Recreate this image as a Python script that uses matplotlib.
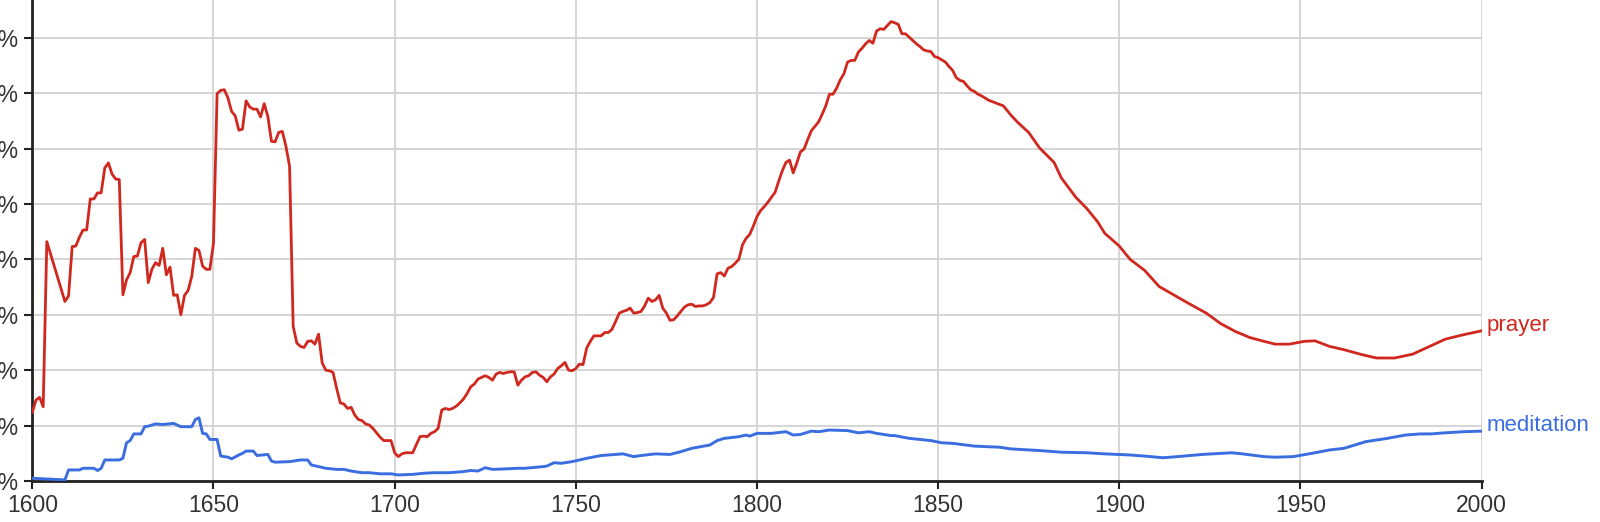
import matplotlib.pyplot as plt
from matplotlib.ticker import FixedLocator

plt.rcParams['font.family'] = ['Liberation Sans', 'DejaVu Sans']

# values in units of 0.001 % (one grid step)
prayer_years = [1600, 1601, 1602, 1603, 1604, 1609, 1610, 1611, 1612, 1613, 1614, 1615, 1616, 1617, 1618, 1619,
                1620, 1621, 1622, 1623, 1624, 1625, 1626, 1627, 1628, 1629, 1630, 1631, 1632, 1633, 1634, 1635,
                1636, 1637, 1638, 1639, 1640, 1641, 1642, 1643, 1644, 1645, 1646, 1647, 1648, 1649, 1650, 1651,
                1652, 1653, 1654, 1655, 1656, 1657, 1658, 1659, 1660, 1661, 1662, 1663, 1664, 1665, 1666, 1667,
                1668, 1669, 1670, 1671, 1672, 1673, 1674, 1675, 1676, 1677, 1678, 1679, 1680, 1681, 1682, 1683,
                1684, 1685, 1686, 1687, 1688, 1689, 1690, 1691, 1692, 1693, 1694, 1695, 1696, 1697, 1698, 1699,
                1700, 1701, 1702, 1703, 1704, 1705, 1706, 1707, 1708, 1709, 1710, 1711, 1712, 1713, 1714, 1715,
                1716, 1717, 1718, 1719, 1720, 1721, 1722, 1723, 1724, 1725, 1726, 1727, 1728, 1729, 1730, 1731,
                1732, 1733, 1734, 1735, 1736, 1737, 1738, 1739, 1740, 1741, 1742, 1743, 1744, 1745, 1746, 1747,
                1748, 1749, 1750, 1751, 1752, 1753, 1754, 1755, 1756, 1757, 1758, 1759, 1760, 1761, 1762, 1763,
                1764, 1765, 1766, 1767, 1768, 1769, 1770, 1771, 1772, 1773, 1774, 1775, 1776, 1777, 1778, 1779,
                1780, 1781, 1782, 1783, 1784, 1785, 1786, 1787, 1788, 1789, 1790, 1791, 1792, 1793, 1794, 1795,
                1796, 1797, 1798, 1799, 1800, 1801, 1802, 1803, 1804, 1805, 1806, 1807, 1808, 1809, 1810, 1811,
                1812, 1813, 1814, 1815, 1816, 1817, 1818, 1819, 1820, 1821, 1822, 1823, 1824, 1825, 1826, 1827,
                1828, 1829, 1830, 1831, 1832, 1833, 1834, 1835, 1836, 1837, 1838, 1839, 1840, 1841, 1842, 1843,
                1844, 1845, 1846, 1847, 1848, 1849, 1850, 1851, 1852, 1853, 1854, 1855, 1856, 1857, 1858, 1859,
                1860, 1861, 1862, 1863, 1864, 1866, 1868, 1870, 1872, 1875, 1878, 1882, 1884, 1888, 1891, 1894,
                1896, 1900, 1903, 1907, 1911, 1915, 1919, 1924, 1928, 1932, 1936, 1940, 1943, 1947, 1951, 1954,
                1958, 1962, 1967, 1971, 1976, 1981, 1986, 1990, 1995, 2000]
prayer = [1.24, 1.46, 1.51, 1.34, 4.32, 3.24, 3.34, 4.23, 4.24, 4.40, 4.53, 4.53, 5.09, 5.09, 5.20, 5.20,
          5.65, 5.74, 5.54, 5.45, 5.44, 3.36, 3.63, 3.76, 4.05, 4.06, 4.30, 4.36, 3.58, 3.82, 3.94, 3.89,
          4.20, 3.72, 3.86, 3.35, 3.36, 3.00, 3.35, 3.44, 3.69, 4.20, 4.16, 3.88, 3.82, 3.82, 4.29, 6.99,
          7.05, 7.06, 6.91, 6.67, 6.59, 6.33, 6.35, 6.86, 6.75, 6.71, 6.71, 6.57, 6.81, 6.58, 6.13, 6.12,
          6.29, 6.31, 6.04, 5.68, 2.79, 2.49, 2.43, 2.41, 2.52, 2.53, 2.47, 2.65, 2.13, 2.00, 1.99, 1.96,
          1.67, 1.41, 1.39, 1.31, 1.33, 1.19, 1.11, 1.09, 1.03, 1.01, 0.95, 0.87, 0.79, 0.73, 0.73, 0.73,
          0.51, 0.44, 0.49, 0.51, 0.51, 0.51, 0.66, 0.80, 0.81, 0.80, 0.86, 0.89, 0.95, 1.28, 1.31, 1.29,
          1.31, 1.35, 1.41, 1.48, 1.58, 1.70, 1.75, 1.84, 1.87, 1.90, 1.87, 1.82, 1.93, 1.96, 1.94, 1.96,
          1.97, 1.97, 1.73, 1.82, 1.88, 1.90, 1.96, 1.97, 1.91, 1.87, 1.79, 1.88, 1.93, 2.03, 2.08, 2.14,
          2.00, 1.99, 2.03, 2.11, 2.10, 2.40, 2.52, 2.62, 2.62, 2.62, 2.68, 2.68, 2.74, 2.88, 3.03, 3.06,
          3.08, 3.12, 3.03, 3.04, 3.06, 3.16, 3.30, 3.24, 3.27, 3.35, 3.12, 3.03, 2.90, 2.91, 2.98, 3.06,
          3.14, 3.18, 3.19, 3.15, 3.16, 3.16, 3.18, 3.22, 3.31, 3.74, 3.76, 3.70, 3.84, 3.87, 3.93, 4.00,
          4.26, 4.38, 4.45, 4.60, 4.77, 4.88, 4.95, 5.03, 5.12, 5.21, 5.41, 5.60, 5.75, 5.79, 5.56, 5.74,
          5.94, 5.99, 6.16, 6.32, 6.40, 6.48, 6.62, 6.77, 6.98, 6.98, 7.09, 7.24, 7.35, 7.56, 7.59, 7.59,
          7.74, 7.81, 7.89, 7.95, 7.90, 8.12, 8.16, 8.15, 8.22, 8.29, 8.27, 8.24, 8.07, 8.07, 8.01, 7.95,
          7.89, 7.84, 7.78, 7.76, 7.75, 7.66, 7.64, 7.60, 7.56, 7.48, 7.41, 7.28, 7.23, 7.21, 7.13, 7.06,
          7.03, 6.98, 6.95, 6.91, 6.87, 6.82, 6.77, 6.61, 6.47, 6.29, 6.01, 5.75, 5.47, 5.12, 4.92, 4.68,
          4.47, 4.24, 4.00, 3.80, 3.51, 3.36, 3.21, 3.03, 2.84, 2.70, 2.59, 2.52, 2.47, 2.47, 2.52, 2.53,
          2.43, 2.37, 2.28, 2.22, 2.22, 2.29, 2.44, 2.56, 2.64, 2.71]

meditation_years = [1600, 1609, 1610, 1613, 1614, 1617, 1618, 1619, 1620, 1624, 1625, 1626, 1627, 1628, 1630,
                    1631, 1632, 1634, 1636, 1639, 1641, 1644, 1645, 1646, 1647, 1648, 1649, 1651, 1652, 1654,
                    1655, 1657, 1658, 1659, 1661, 1662, 1665, 1666, 1667, 1671, 1674, 1676, 1677, 1679, 1681,
                    1684, 1686, 1688, 1691, 1693, 1696, 1699, 1701, 1705, 1708, 1711, 1715, 1719, 1721, 1723,
                    1725, 1727, 1731, 1734, 1736, 1741, 1742, 1744, 1746, 1749, 1753, 1757, 1763, 1766, 1768,
                    1772, 1776, 1779, 1782, 1787, 1789, 1791, 1795, 1797, 1798, 1800, 1804, 1808, 1810, 1812,
                    1815, 1817, 1820, 1825, 1828, 1831, 1833, 1837, 1838, 1842, 1848, 1851, 1854, 1860, 1867,
                    1870, 1878, 1884, 1891, 1896, 1903, 1907, 1912, 1916, 1923, 1928, 1931, 1934, 1940, 1943,
                    1948, 1954, 1958, 1962, 1968, 1974, 1979, 1983, 1986, 1990, 1995, 2000]
meditation = [0.05, 0.02, 0.20, 0.20, 0.23, 0.23, 0.19, 0.23, 0.38, 0.38, 0.41, 0.69, 0.73, 0.85, 0.85,
              0.98, 0.99, 1.03, 1.02, 1.04, 0.98, 0.98, 1.11, 1.14, 0.86, 0.85, 0.75, 0.75, 0.45, 0.43,
              0.40, 0.47, 0.50, 0.54, 0.54, 0.46, 0.48, 0.36, 0.34, 0.35, 0.38, 0.38, 0.29, 0.26, 0.23,
              0.21, 0.21, 0.18, 0.15, 0.15, 0.13, 0.13, 0.11, 0.12, 0.14, 0.15, 0.15, 0.17, 0.19, 0.18,
              0.24, 0.21, 0.22, 0.23, 0.23, 0.26, 0.27, 0.33, 0.32, 0.35, 0.41, 0.46, 0.49, 0.44, 0.46,
              0.49, 0.48, 0.53, 0.59, 0.65, 0.73, 0.77, 0.80, 0.83, 0.81, 0.86, 0.86, 0.89, 0.83, 0.84,
              0.90, 0.89, 0.92, 0.91, 0.87, 0.89, 0.86, 0.82, 0.82, 0.77, 0.73, 0.69, 0.68, 0.63, 0.61,
              0.58, 0.55, 0.52, 0.51, 0.49, 0.47, 0.45, 0.42, 0.44, 0.48, 0.50, 0.51, 0.49, 0.44, 0.43,
              0.44, 0.51, 0.56, 0.59, 0.71, 0.77, 0.83, 0.85, 0.85, 0.87, 0.89, 0.90]

y_ticks = [0, 1, 2, 3, 4, 5, 6, 7, 8]
y_labels = ["0.000000%", "0.001000%", "0.002000%", "0.003000%", "0.004000%",
            "0.005000%", "0.006000%", "0.007000%", "0.008000%"]
x_ticks = [1600, 1650, 1700, 1750, 1800, 1850, 1900, 1950, 2000]

red = '#d0281f'
blue = '#3a6ee0'

fig = plt.figure(figsize=(16, 5.22), dpi=100)
ax = fig.add_axes([0.0202, 0.0785, 0.9058, 0.9215])

ax.plot(prayer_years, prayer, color=red, lw=2.0, solid_joinstyle='round', zorder=3)
ax.plot(meditation_years, meditation, color=blue, lw=2.1, solid_joinstyle='round', zorder=3)

ax.set_xlim(1600, 2000)
ax.set_ylim(0, 8.68)
ax.xaxis.set_major_locator(FixedLocator(x_ticks))
ax.set_xticklabels([str(x) for x in x_ticks])
ax.yaxis.set_major_locator(FixedLocator(y_ticks))
ax.set_yticklabels(y_labels)

ax.grid(True, color='#d2d2d2', lw=1.3, zorder=0)
ax.set_axisbelow(True)
for s in ['top', 'right']:
    ax.spines[s].set_visible(False)
for s in ['left', 'bottom']:
    ax.spines[s].set_color('#222222')
    ax.spines[s].set_linewidth(2)
ax.tick_params(axis='both', colors='#222222', labelcolor='#333333', labelsize=16.5,
               length=6, width=1.5)
ax.tick_params(axis='y', pad=4)
ax.tick_params(axis='x', pad=3)

ax.text(2001.5, prayer[-1] + 0.1, "prayer", color=red, fontsize=16, va='center', ha='left',
        clip_on=False)
ax.text(2001.5, meditation[-1] + 0.1, "meditation", color=blue, fontsize=16, va='center', ha='left',
        clip_on=False)

fig.savefig("out.png", dpi=100)
